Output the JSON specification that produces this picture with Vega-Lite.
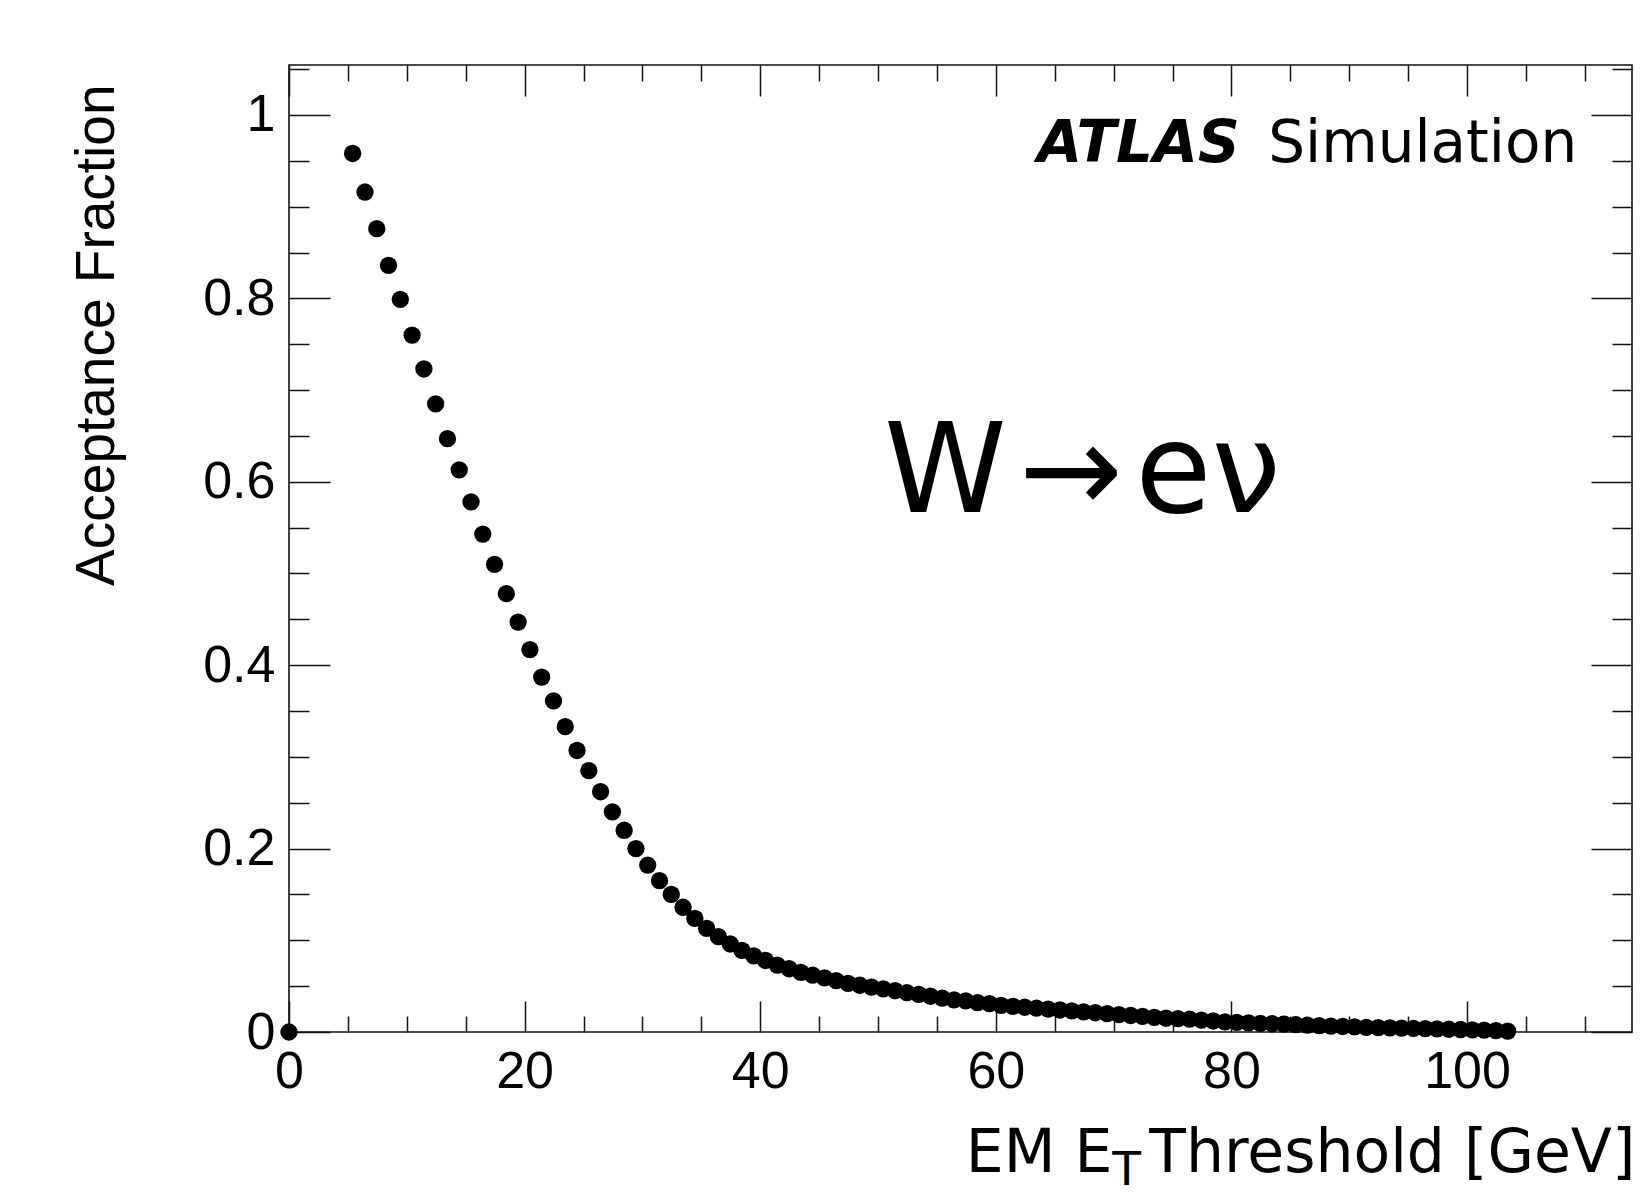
{
  "$schema": "https://vega.github.io/schema/vega-lite/v6.json",
  "autosize": {"type": "none"},
  "padding": {"left": 289, "top": 65, "right": 16, "bottom": 164},
  "width": 1343,
  "height": 967,
  "background": "white",
  "config": {
    "view": {"stroke": "#111", "strokeWidth": 1.6},
    "axis": {"domain": false, "grid": false, "tickColor": "#111", "tickWidth": 1.5, "labelColor": "black", "labelFont": "Liberation Sans", "labelFontSize": 52, "labelOverlap": false, "labelFlush": false, "labelBound": false}
  },
  "resolve": {"axis": {"x": "independent", "y": "independent"}},
  "layer": [
    {
      "data": {"values": [
        {"x": 0, "y": 0},
        {"x": 5.4, "y": 0.958}, {"x": 6.45, "y": 0.916}, {"x": 7.45, "y": 0.876}, {"x": 8.45, "y": 0.836},
        {"x": 9.45, "y": 0.799}, {"x": 10.45, "y": 0.76}, {"x": 11.45, "y": 0.723}, {"x": 12.45, "y": 0.685},
        {"x": 13.45, "y": 0.647}, {"x": 14.45, "y": 0.613}, {"x": 15.45, "y": 0.578}, {"x": 16.45, "y": 0.543},
        {"x": 17.45, "y": 0.51}, {"x": 18.45, "y": 0.478}, {"x": 19.45, "y": 0.447}, {"x": 20.45, "y": 0.417},
        {"x": 21.45, "y": 0.387}, {"x": 22.45, "y": 0.361}, {"x": 23.45, "y": 0.333}, {"x": 24.45, "y": 0.307},
        {"x": 25.45, "y": 0.285}, {"x": 26.45, "y": 0.262}, {"x": 27.45, "y": 0.24}, {"x": 28.45, "y": 0.22},
        {"x": 29.45, "y": 0.2}, {"x": 30.45, "y": 0.182}, {"x": 31.45, "y": 0.165}, {"x": 32.45, "y": 0.15},
        {"x": 33.45, "y": 0.136}, {"x": 34.45, "y": 0.124}, {"x": 35.45, "y": 0.113}, {"x": 36.45, "y": 0.104},
        {"x": 37.45, "y": 0.096}, {"x": 38.45, "y": 0.089}, {"x": 39.45, "y": 0.083}, {"x": 40.45, "y": 0.078},
        {"x": 41.45, "y": 0.073}, {"x": 42.45, "y": 0.069}, {"x": 43.45, "y": 0.065}, {"x": 44.45, "y": 0.062},
        {"x": 45.45, "y": 0.059}, {"x": 46.45, "y": 0.056}, {"x": 47.45, "y": 0.053}, {"x": 48.45, "y": 0.051},
        {"x": 49.45, "y": 0.049}, {"x": 50.45, "y": 0.047}, {"x": 51.45, "y": 0.045}, {"x": 52.45, "y": 0.043},
        {"x": 53.45, "y": 0.041}, {"x": 54.45, "y": 0.039}, {"x": 55.45, "y": 0.037}, {"x": 56.45, "y": 0.035},
        {"x": 57.45, "y": 0.034}, {"x": 58.45, "y": 0.032}, {"x": 59.45, "y": 0.031}, {"x": 60.45, "y": 0.029},
        {"x": 61.45, "y": 0.028}, {"x": 62.45, "y": 0.027}, {"x": 63.45, "y": 0.026}, {"x": 64.45, "y": 0.025},
        {"x": 65.45, "y": 0.024}, {"x": 66.45, "y": 0.023}, {"x": 67.45, "y": 0.022}, {"x": 68.45, "y": 0.021},
        {"x": 69.45, "y": 0.02}, {"x": 70.45, "y": 0.019}, {"x": 71.45, "y": 0.018}, {"x": 72.45, "y": 0.017},
        {"x": 73.45, "y": 0.016}, {"x": 74.45, "y": 0.015}, {"x": 75.45, "y": 0.0145}, {"x": 76.45, "y": 0.014},
        {"x": 77.45, "y": 0.013}, {"x": 78.45, "y": 0.012}, {"x": 79.45, "y": 0.011}, {"x": 80.45, "y": 0.0105},
        {"x": 81.45, "y": 0.01}, {"x": 82.45, "y": 0.0095}, {"x": 83.45, "y": 0.009}, {"x": 84.45, "y": 0.0085},
        {"x": 85.45, "y": 0.008}, {"x": 86.45, "y": 0.0075}, {"x": 87.45, "y": 0.007}, {"x": 88.45, "y": 0.0065},
        {"x": 89.45, "y": 0.006}, {"x": 90.45, "y": 0.0055}, {"x": 91.45, "y": 0.005}, {"x": 92.45, "y": 0.0048},
        {"x": 93.45, "y": 0.0045}, {"x": 94.45, "y": 0.0042}, {"x": 95.45, "y": 0.004}, {"x": 96.45, "y": 0.0037},
        {"x": 97.45, "y": 0.0034}, {"x": 98.45, "y": 0.003}, {"x": 99.45, "y": 0.0027}, {"x": 100.45, "y": 0.0024},
        {"x": 101.45, "y": 0.002}, {"x": 102.45, "y": 0.0015}, {"x": 103.45, "y": 0.001}
      ]},
      "mark": {"type": "circle", "size": 300, "color": "black", "opacity": 1},
      "encoding": {
        "x": {"field": "x", "type": "quantitative",
          "scale": {"domain": [0, 114], "nice": false, "zero": false},
          "axis": {"orient": "bottom", "title": null,
            "values": [0,5,10,15,20,25,30,35,40,45,50,55,60,65,70,75,80,85,90,95,100,105,110],
            "tickSize": {"condition": {"test": "datum.value % 20 === 0", "value": -31}, "value": -16},
            "labelExpr": "datum.value % 20 === 0 ? datum.label : ''",
            "labelPadding": 45}},
        "y": {"field": "y", "type": "quantitative",
          "scale": {"domain": [0, 1.0545], "nice": false, "zero": false},
          "axis": {"orient": "left",
            "values": [0,0.05,0.1,0.15,0.2,0.25,0.3,0.35,0.4,0.45,0.5,0.55,0.6,0.65,0.7,0.75,0.8,0.85,0.9,0.95,1,1.05],
            "tickSize": {"condition": {"test": "abs(datum.value*5 - round(datum.value*5)) < 0.001", "value": -41}, "value": -20},
            "labelExpr": "abs(datum.value*5 - round(datum.value*5)) < 0.001 ? format(datum.value, '.1~f') : ''",
            "labelPadding": 55,
            "title": "Acceptance Fraction",
            "titleFont": "Liberation Sans", "titleFontSize": 55, "titleFontWeight": "normal", "titleColor": "black",
            "titleAngle": 270, "titleAlign": "right", "titleBaseline": "alphabetic",
            "titleX": -176, "titleY": 19}}
      }
    },
    {
      "data": {"values": [{}]},
      "mark": {"type": "text", "text": "ATLAS", "font": "DejaVu Sans", "fontSize": 58, "fontWeight": "bold", "fontStyle": "italic", "align": "right", "baseline": "alphabetic", "color": "black"},
      "encoding": {
        "x": {"datum": 80.7, "type": "quantitative",
          "axis": {"orient": "top", "title": null, "labels": false,
            "values": [0,5,10,15,20,25,30,35,40,45,50,55,60,65,70,75,80,85,90,95,100,105,110],
            "tickSize": {"condition": {"test": "datum.value % 20 === 0", "value": -31}, "value": -16}}},
        "y": {"datum": 0.949, "type": "quantitative",
          "axis": {"orient": "right", "title": null, "labels": false,
            "values": [0,0.05,0.1,0.15,0.2,0.25,0.3,0.35,0.4,0.45,0.5,0.55,0.6,0.65,0.7,0.75,0.8,0.85,0.9,0.95,1,1.05],
            "tickSize": {"condition": {"test": "abs(datum.value*5 - round(datum.value*5)) < 0.001", "value": -41}, "value": -20}}}
      }
    },
    {
      "data": {"values": [{}]},
      "mark": {"type": "text", "text": "Simulation", "font": "DejaVu Sans", "fontSize": 58, "align": "right", "baseline": "alphabetic", "color": "black"},
      "encoding": {
        "x": {"datum": 109.35, "type": "quantitative", "axis": null},
        "y": {"datum": 0.949, "type": "quantitative", "axis": null}
      }
    },
    {
      "data": {"values": [{}]},
      "mark": {"type": "text", "text": "W\u200a\u2192\u200aeν", "font": "DejaVu Sans", "fontSize": 124, "align": "left", "baseline": "alphabetic", "color": "black"},
      "encoding": {
        "x": {"datum": 50.5, "type": "quantitative", "axis": null},
        "y": {"datum": 0.567, "type": "quantitative", "axis": null}
      }
    },
    {
      "data": {"values": [{}]},
      "mark": {"type": "text", "text": "EM E", "font": "DejaVu Sans", "fontSize": 60, "align": "right", "baseline": "alphabetic", "color": "black", "clip": false},
      "encoding": {
        "x": {"datum": 69.9, "type": "quantitative", "axis": null},
        "y": {"datum": -0.1527, "type": "quantitative", "axis": null}
      }
    },
    {
      "data": {"values": [{}]},
      "mark": {"type": "text", "text": "T", "font": "DejaVu Sans", "fontSize": 47, "align": "center", "baseline": "alphabetic", "color": "black", "clip": false},
      "encoding": {
        "x": {"datum": 71.1, "type": "quantitative", "axis": null},
        "y": {"datum": -0.167, "type": "quantitative", "axis": null}
      }
    },
    {
      "data": {"values": [{}]},
      "mark": {"type": "text", "text": "Threshold [GeV]", "font": "DejaVu Sans", "fontSize": 60, "align": "right", "baseline": "alphabetic", "color": "black", "clip": false},
      "encoding": {
        "x": {"datum": 114.28, "type": "quantitative", "axis": null},
        "y": {"datum": -0.1527, "type": "quantitative", "axis": null}
      }
    }
  ]
}
